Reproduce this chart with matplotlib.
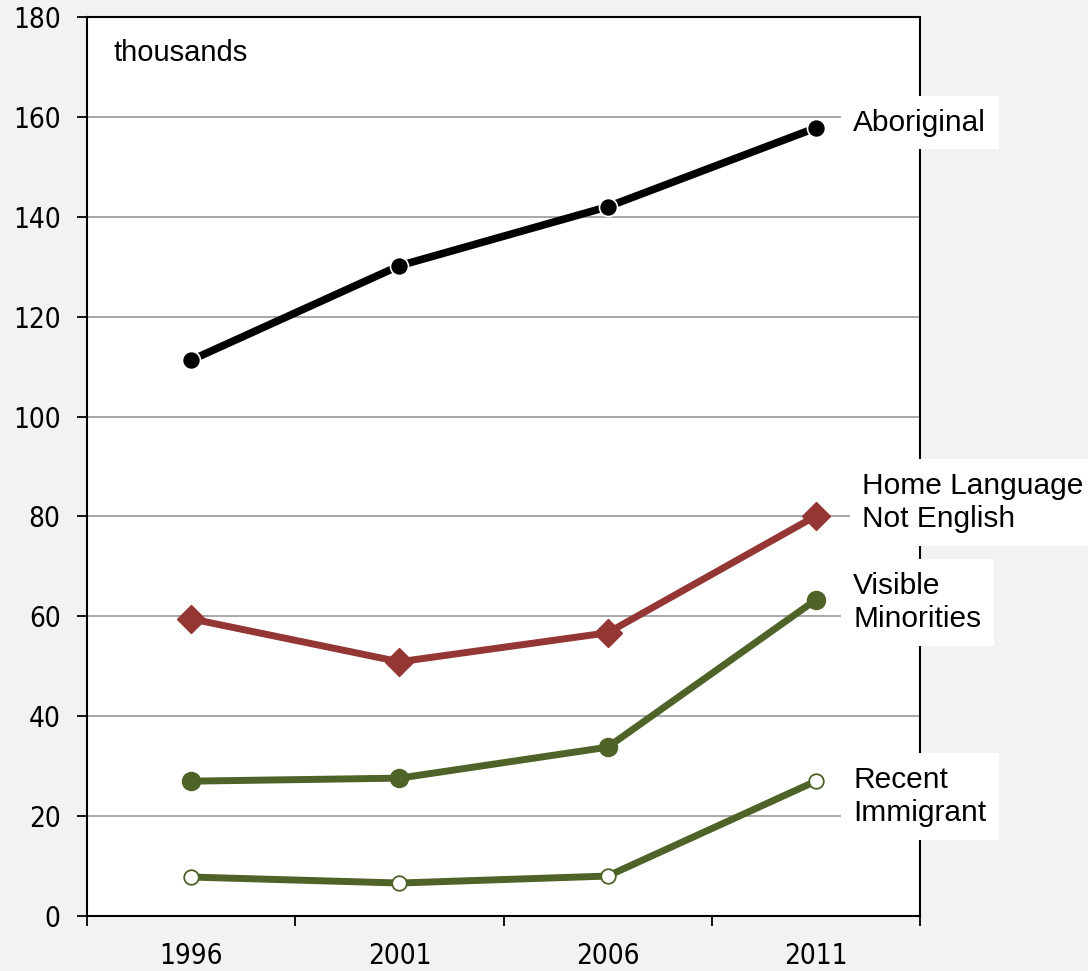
import matplotlib
matplotlib.use("Agg")
import matplotlib.pyplot as plt

years = ["1996", "2001", "2006", "2011"]
aboriginal = [111.3, 130.2, 142.0, 157.8]
home_language = [59.5, 50.9, 56.7, 80.1]
visible_minorities = [27.0, 27.6, 33.8, 63.3]
recent_immigrant = [7.8, 6.6, 8.0, 27.0]
series_labels = ["Aboriginal", "Home Language\nNot English", "Visible\nMinorities", "Recent\nImmigrant"]
label_x = [3.18, 3.223, 3.18, 3.18]
label_y = [158.8, 82.8, 62.8, 23.9]
y_ticks = list(range(0, 181, 20))

fig = plt.figure(figsize=(10.88, 9.71), dpi=100, facecolor="#f2f2f2")
ax = fig.add_axes([87/1088, 1-916/971, (920-87)/1088, (916-17)/971])
ax.set_facecolor("white")

x = list(range(len(years)))
red = "#943634"
green = "#4F6228"

ax.plot(x, aboriginal, color="black", lw=5.5, marker="o", ms=13,
        mfc="black", mec="white", mew=1.2, zorder=5, clip_on=False)
ax.plot(x, home_language, color=red, lw=5, marker="D", ms=14,
        mfc=red, mec=red, zorder=5, clip_on=False)
ax.plot(x, visible_minorities, color=green, lw=5, marker="o", ms=13,
        mfc=green, mec=green, zorder=5, clip_on=False)
ax.plot(x, recent_immigrant, color=green, lw=5, marker="o", ms=10.5,
        mfc="white", mec=green, mew=1.3, zorder=5, clip_on=False)

ax.set_xlim(-0.5, 3.5)
ax.set_ylim(0, 180)
ax.set_yticks(y_ticks)
ax.set_yticklabels([str(v) for v in y_ticks])
ax.yaxis.grid(True, color="#a0a0a0", lw=1.3)
ax.set_axisbelow(True)

ax.set_xticks(x)
ax.set_xticklabels(years)
ax.set_xticks([-0.5, 0.5, 1.5, 2.5, 3.5], minor=True)
ax.tick_params(axis="x", which="major", length=0, pad=19, labelsize=20)
ax.tick_params(axis="x", which="minor", length=7, width=1.3, direction="out")
ax.tick_params(axis="y", length=7, width=1.3, direction="out", pad=12, labelsize=20)
for lab in ax.get_xticklabels() + ax.get_yticklabels():
    lab.set_family("DejaVu Sans")
    lab.set_fontstretch("condensed")

for s in ax.spines.values():
    s.set_color("black")
    s.set_linewidth(1.5)

ax.text(0.032, 0.96, "thousands", transform=ax.transAxes, fontsize=21,
        family="Liberation Sans", va="center", ha="left")

for lab, xv, yv in zip(series_labels, label_x, label_y):
    ax.text(xv, yv, lab, fontsize=21.5, family="Liberation Sans",
            ha="left", va="center", linespacing=1.25, clip_on=False, zorder=6,
            bbox=dict(boxstyle="square,pad=0.42", fc="white", ec="none"))

fig.savefig("out.png", dpi=100, facecolor=fig.get_facecolor())
